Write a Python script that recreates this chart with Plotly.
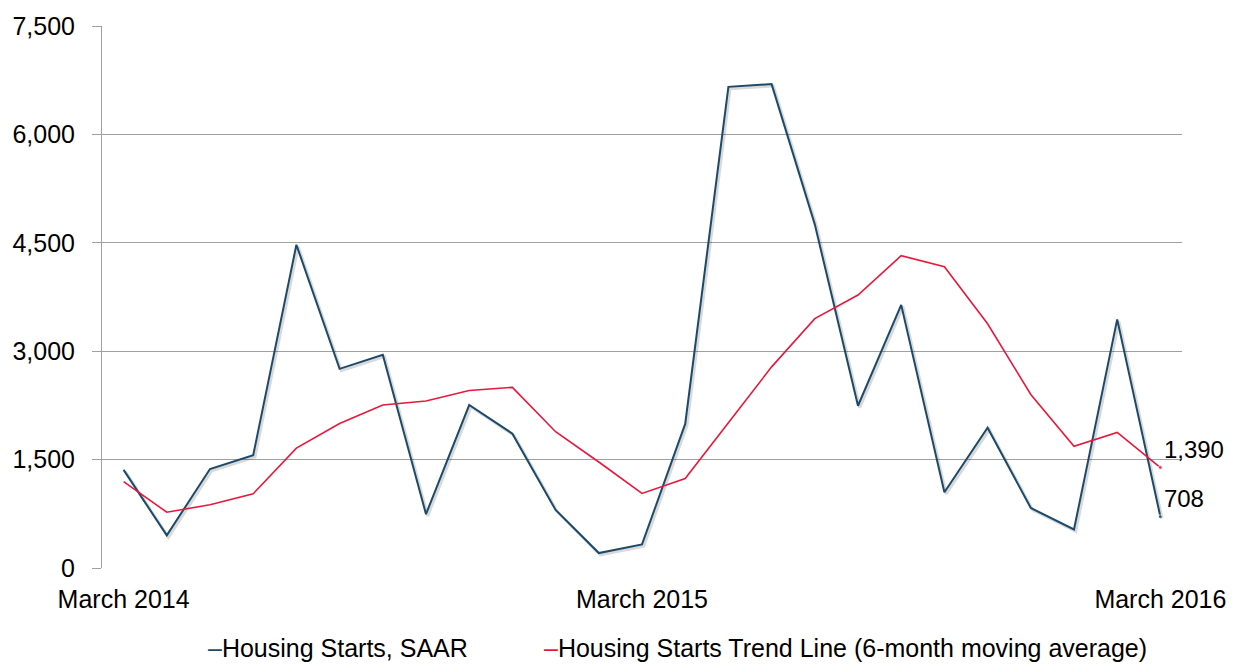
import plotly.graph_objects as go

months = ["March 2014", "April 2014", "May 2014", "June 2014", "July 2014", "August 2014",
          "September 2014", "October 2014", "November 2014", "December 2014", "January 2015",
          "February 2015", "March 2015", "April 2015", "May 2015", "June 2015", "July 2015",
          "August 2015", "September 2015", "October 2015", "November 2015", "December 2015",
          "January 2016", "February 2016", "March 2016"]

starts_saar = [1358, 451, 1370, 1560, 4473, 2756, 2951, 745, 2255, 1859, 804, 207, 326,
               1994, 6658, 6696, 4755, 2245, 3641, 1049, 1940, 831, 533, 3440, 708]

trend_6m = [1196, 772, 875, 1027, 1658, 2000, 2255, 2310, 2457, 2500, 1886, 1467, 1032,
            1239, 2011, 2783, 3451, 3777, 4321, 4168, 3380, 2402, 1685, 1875, 1390]

tick_labels = ["March 2014", "March 2015", "March 2016"]
y_ticks = [0, 1500, 3000, 4500, 6000, 7500]

name_saar = "Housing Starts, SAAR"
name_trend = "Housing Starts Trend Line (6-month moving average)"

blue = "#1b4a6b"
red = "#e8183c"
grid = "#a0a0a0"
font_family = "Liberation Sans, Arial, sans-serif"

idx = list(range(len(months)))
last = len(months) - 1
tick_idx = [months.index(t) for t in tick_labels]

def end_text(vals):
    return ["" if i < last else f"{v:,}" for i, v in enumerate(vals)]

def end_sizes(vals):
    return [0 if i < last else 4 for i in range(len(vals))]

fig = go.Figure()

# subtle shadow under the blue line
fig.add_trace(go.Scatter(x=[i + 0.04 for i in idx], y=[v - 25 for v in starts_saar], mode="lines",
                         line=dict(color="rgba(0,0,0,0.15)", width=3), hoverinfo="skip",
                         showlegend=False))
fig.add_trace(go.Scatter(x=idx, y=starts_saar, mode="lines+markers+text", name=name_saar,
                         line=dict(color=blue, width=2),
                         marker=dict(size=end_sizes(starts_saar), color=blue),
                         text=end_text(starts_saar), textposition="top right",
                         textfont=dict(size=24, color="#000000", family=font_family),
                         cliponaxis=False, showlegend=False))
fig.add_trace(go.Scatter(x=idx, y=trend_6m, mode="lines+markers+text", name=name_trend,
                         line=dict(color=red, width=1.6),
                         marker=dict(size=end_sizes(trend_6m), color=red),
                         text=end_text(trend_6m), textposition="top right",
                         textfont=dict(size=24, color="#000000", family=font_family),
                         cliponaxis=False, showlegend=False))

L, R, T, B = 97, 50, 22, 96
W, H = 1238, 664
pw = W - L - R
ph = H - T - B

def px_x(px):
    return (px - L) / pw

def px_y(py):
    return (H - B - py) / ph

legend_y = px_y(649)
fig.add_annotation(xref="paper", yref="paper", x=px_x(202), y=legend_y,
                   xanchor="left", yanchor="middle", showarrow=False,
                   text=f'<span style="color:{blue}">–</span>{name_saar}',
                   font=dict(size=25, color="#000000", family=font_family))
fig.add_annotation(xref="paper", yref="paper", x=px_x(541), y=legend_y,
                   xanchor="left", yanchor="middle", showarrow=False,
                   text=f'<span style="color:{red}">–</span>{name_trend}',
                   font=dict(size=25, color="#000000", family=font_family))

fig.update_layout(
    width=W, height=H,
    margin=dict(l=L, r=R, t=T, b=B),
    paper_bgcolor="white", plot_bgcolor="white",
    font=dict(family=font_family, size=25, color="#000000"),
    showlegend=False,
    xaxis=dict(range=[-0.5, len(months) - 0.5], tickmode="array", tickvals=tick_idx,
               ticktext=tick_labels, showgrid=False, zeroline=False, showline=False,
               ticks="", tickfont=dict(size=25), ticklabelstandoff=14),
    yaxis=dict(range=[0, 7500], tickmode="array", tickvals=y_ticks,
               ticktext=[f"{v:,}" for v in y_ticks], showgrid=True, gridcolor=grid,
               gridwidth=1, zeroline=False, showline=True, linecolor=grid, linewidth=1,
               ticks="outside", ticklen=9, tickcolor=grid, tickfont=dict(size=25),
               ticklabelstandoff=12),
)

fig.write_html("out.html", config={"displayModeBar": False},
               post_script="document.body.style.margin='0px';")
